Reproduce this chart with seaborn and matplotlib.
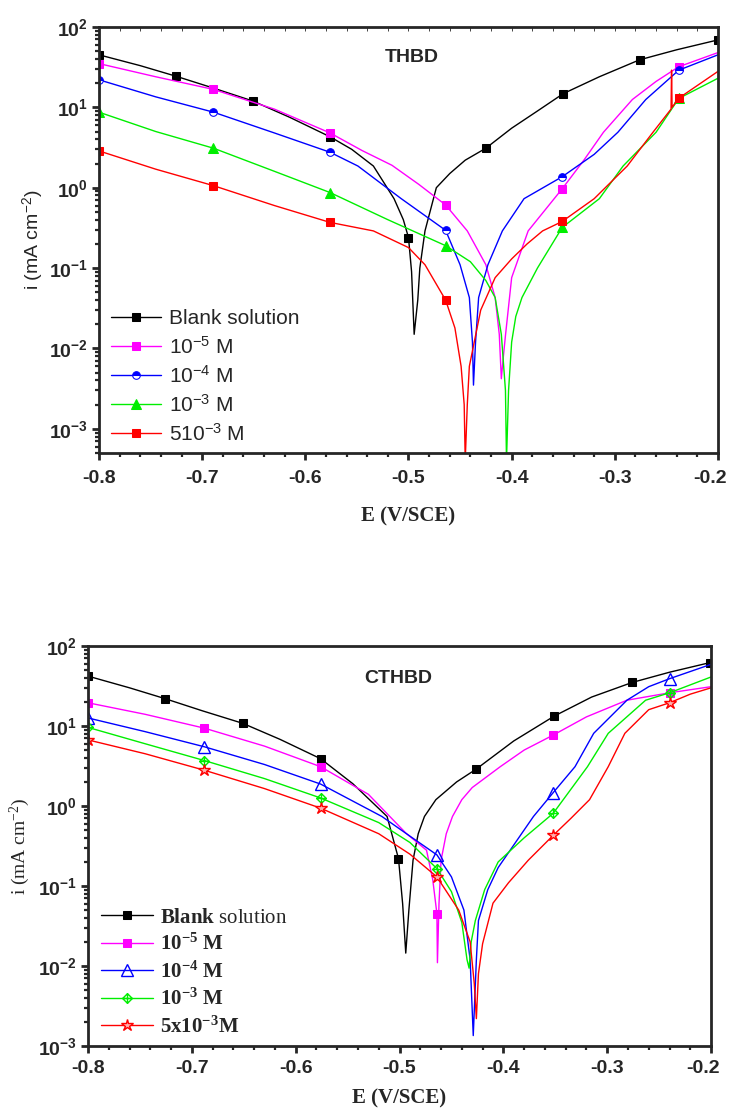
import numpy as np
import matplotlib
matplotlib.use("Agg")
import matplotlib.pyplot as plt
import matplotlib.transforms as mtransforms
from matplotlib.path import Path
from matplotlib.ticker import LogLocator, MultipleLocator, LogFormatterSciNotation, NullFormatter, FuncFormatter
import seaborn as sns

# ---------------- DATA: THBD (top panel) ----------------
top_labels = ["Blank solution", "10$^{\\mathdefault{-5}}$ M", "10$^{\\mathdefault{-4}}$ M",
              "10$^{\\mathdefault{-3}}$ M", "510$^{\\mathdefault{-3}}$ M"]

t_blank_E = [-0.800, -0.760, -0.725, -0.690, -0.651, -0.615, -0.576, -0.555, -0.534, -0.514, -0.505,
             -0.500, -0.497, -0.4945, -0.491, -0.489, -0.484, -0.473, -0.460, -0.445, -0.425, -0.400,
             -0.375, -0.350, -0.315, -0.276, -0.240, -0.200]
t_blank_i = [45, 33, 24.3, 17.5, 12, 7.5, 4.3, 3.0, 1.86, 0.73, 0.40,
             0.24, 0.09, 0.015, 0.04, 0.10, 0.29, 1.0, 1.5, 2.2, 3.1, 5.5,
             9.0, 14.8, 24, 39, 52, 69]

t_m5_E = [-0.800, -0.745, -0.689, -0.630, -0.576, -0.545, -0.516, -0.490, -0.464, -0.443, -0.425,
          -0.416, -0.412, -0.410, -0.408, -0.406, -0.400, -0.384, -0.351, -0.330, -0.311, -0.283,
          -0.260, -0.238, -0.200]
t_m5_i = [35, 24, 16.7, 9.5, 4.8, 2.9, 1.9, 1.1, 0.61, 0.29, 0.11,
          0.043, 0.015, 0.0042, 0.008, 0.0145, 0.076, 0.29, 0.97, 2.2, 4.9, 12.5,
          21, 32, 48]

t_m4_E = [-0.800, -0.745, -0.689, -0.630, -0.576, -0.549, -0.507, -0.464, -0.450, -0.441, -0.438,
          -0.437, -0.435, -0.432, -0.423, -0.409, -0.388, -0.351, -0.320, -0.297, -0.270, -0.238,
          -0.200]
t_m4_i = [22, 13.5, 8.7, 4.8, 2.76, 1.86, 0.73, 0.295, 0.11, 0.043, 0.012,
          0.0035, 0.012, 0.043, 0.11, 0.29, 0.73, 1.37, 2.6, 4.9, 12.5, 29,
          45]

t_m3_E = [-0.800, -0.745, -0.689, -0.630, -0.576, -0.520, -0.464, -0.440, -0.425, -0.416, -0.410,
          -0.406, -0.405, -0.403, -0.400, -0.396, -0.390, -0.375, -0.351, -0.315, -0.292, -0.260,
          -0.238, -0.200]
t_m3_i = [8.7, 5.0, 3.1, 1.6, 0.87, 0.40, 0.19, 0.12, 0.07, 0.043, 0.015,
          0.003, 0.0004, 0.003, 0.012, 0.025, 0.043, 0.10, 0.32, 0.73, 1.86, 4.9,
          12.9, 23]

t_m53_E = [-0.800, -0.745, -0.689, -0.630, -0.576, -0.534, -0.500, -0.484, -0.464, -0.455, -0.449,
           -0.446, -0.445, -0.443, -0.441, -0.430, -0.416, -0.400, -0.385, -0.370, -0.351, -0.320,
           -0.288, -0.263, -0.2455, -0.245, -0.2445, -0.238, -0.200]
t_m53_i = [2.87, 1.7, 1.06, 0.6, 0.37, 0.29, 0.18, 0.11, 0.04, 0.018, 0.006,
           0.002, 0.0004, 0.002, 0.006, 0.03, 0.076, 0.13, 0.2, 0.29, 0.38, 0.73,
           1.86, 4.9, 9.5, 29, 10, 13, 28]

t_mk_blank = [-0.800, -0.725, -0.651, -0.576, -0.500, -0.425, -0.350, -0.276, -0.200]
t_mk_inh = [-0.800, -0.689, -0.576, -0.464, -0.351, -0.238]

# ---------------- DATA: CTHBD (bottom panel) ----------------
bot_labels = ["$\\mathbf{Blank}$ solution", "10$^{\\mathdefault{-5}}$ M", "10$^{\\mathdefault{-4}}$ M",
              "10$^{\\mathdefault{-3}}$ M", "5x10$^{\\mathdefault{-3}}$M"]

b_blank_E = [-0.800, -0.760, -0.726, -0.690, -0.651, -0.615, -0.576, -0.545, -0.512, -0.501, -0.497,
             -0.494, -0.491, -0.487, -0.482, -0.476, -0.465, -0.445, -0.426, -0.390, -0.351, -0.315,
             -0.276, -0.240, -0.201]
b_blank_i = [42, 30, 22, 15.5, 10.8, 6.8, 3.9, 1.9, 0.74, 0.22, 0.06,
             0.0145, 0.05, 0.21, 0.45, 0.74, 1.2, 2.0, 2.9, 6.5, 13.3, 23,
             35, 47, 62]

b_m5_E = [-0.800, -0.745, -0.688, -0.630, -0.576, -0.530, -0.494, -0.474, -0.468, -0.464, -0.4635,
          -0.462, -0.460, -0.455, -0.449, -0.440, -0.430, -0.403, -0.380, -0.352, -0.320, -0.281,
          -0.240, -0.200]
b_m5_i = [19.5, 14, 9.4, 5.6, 3.1, 1.4, 0.46, 0.28, 0.12, 0.045, 0.011,
          0.06, 0.21, 0.45, 0.74, 1.2, 1.7, 3.1, 5.0, 7.7, 13, 21,
          26, 31]

b_m4_E = [-0.800, -0.745, -0.688, -0.630, -0.576, -0.517, -0.490, -0.464, -0.450, -0.438, -0.432,
          -0.429, -0.426, -0.424, -0.415, -0.405, -0.371, -0.352, -0.331, -0.313, -0.281, -0.260,
          -0.240, -0.200]
b_m4_i = [12.6, 8.5, 5.5, 3.3, 1.88, 0.74, 0.42, 0.245, 0.13, 0.05, 0.012,
          0.00135, 0.012, 0.037, 0.09, 0.17, 0.74, 1.47, 3.1, 8.1, 21, 31,
          39, 59]

b_m3_E = [-0.800, -0.745, -0.688, -0.630, -0.576, -0.520, -0.490, -0.464, -0.450, -0.440, -0.435,
          -0.433, -0.431, -0.427, -0.418, -0.405, -0.380, -0.352, -0.319, -0.299, -0.263, -0.240,
          -0.200]
b_m3_i = [9.6, 6.0, 3.7, 2.2, 1.26, 0.62, 0.35, 0.165, 0.085, 0.035, 0.012,
          0.0094, 0.02, 0.037, 0.09, 0.2, 0.4, 0.81, 3.1, 8.1, 21, 26,
          41]

b_m53_E = [-0.800, -0.745, -0.688, -0.630, -0.576, -0.520, -0.490, -0.464, -0.443, -0.432, -0.428,
           -0.426, -0.424, -0.420, -0.410, -0.395, -0.376, -0.352, -0.335, -0.317, -0.299, -0.283,
           -0.260, -0.240, -0.220, -0.200]
b_m53_i = [6.7, 4.5, 2.8, 1.65, 0.94, 0.45, 0.25, 0.13, 0.05, 0.02, 0.006,
           0.0022, 0.008, 0.019, 0.061, 0.11, 0.21, 0.43, 0.7, 1.2, 3.1, 8.1,
           16, 19.5, 25, 30]

b_mk_blank = [-0.800, -0.726, -0.651, -0.576, -0.501, -0.426, -0.351, -0.276, -0.201]
b_mk_inh = [-0.800, -0.688, -0.576, -0.464, -0.352, -0.240]

# ---------------- STYLE ----------------
sns.set_style("ticks")
plt.rcParams.update({
    "font.family": ["Liberation Sans", "DejaVu Sans"],
    "axes.unicode_minus": False,
    "mathtext.fontset": "custom",
    "mathtext.rm": "Liberation Serif",
    "mathtext.bf": "Liberation Serif:bold",
    "mathtext.it": "Liberation Serif:italic",
})

BLACK, MAG, BLUE, GREEN, RED = "#000000", "#ff00ff", "#0000ff", "#00ee00", "#ff0000"

diamond_plus = Path(
    [(0, 1), (1, 0), (0, -1), (-1, 0), (0, 1), (0, 1), (0, -1), (-1, 0), (1, 0)],
    [Path.MOVETO, Path.LINETO, Path.LINETO, Path.LINETO, Path.CLOSEPOLY,
     Path.MOVETO, Path.LINETO, Path.MOVETO, Path.LINETO])


def mk_idx(E, marks):
    E = np.round(np.asarray(E), 4)
    return [int(k) for k in np.where(np.isin(E, np.round(marks, 4)))[0]]


def style_axes(ax, ylabel, ylabel_font, ymin, xpad, xlabelpad, ylabelpad):
    ax.set_xlim(-0.8, -0.2)
    ax.set_ylim(ymin, 100)
    ax.xaxis.set_major_locator(MultipleLocator(0.1))
    ax.xaxis.set_minor_locator(MultipleLocator(0.02))
    ax.yaxis.set_major_locator(LogLocator(base=10, numticks=10))
    ax.yaxis.set_minor_locator(LogLocator(base=10, subs=np.arange(2, 10), numticks=20))
    ax.yaxis.set_major_formatter(LogFormatterSciNotation())
    ax.yaxis.set_minor_formatter(NullFormatter())
    ax.xaxis.set_major_formatter(FuncFormatter(lambda v, p: f"{v:.1f}"))
    for s in ax.spines.values():
        s.set_linewidth(2.0)
        s.set_visible(True)
    ax.tick_params(axis="both", which="major", direction="out", length=5, width=2, labelsize=14)
    ax.tick_params(axis="x", which="major", pad=xpad)
    ax.tick_params(axis="y", which="major", pad=3)
    ax.tick_params(axis="both", which="minor", direction="out", length=3, width=1.6)
    ax.set_xlabel("E (V/SCE)", fontsize=15, fontweight="bold", family="Liberation Serif", labelpad=xlabelpad)
    ax.set_ylabel(ylabel, fontsize=14, family=ylabel_font, labelpad=ylabelpad)


def finish_ticklabels(ax):
    for lab in ax.get_xticklabels() + ax.get_yticklabels():
        lab.set_fontweight("bold")
        lab.set_family("Liberation Sans")
    # keep the right-most x tick label (-0.2) inside the figure edge
    for tick in ax.xaxis.get_major_ticks():
        if abs(tick.get_loc() - ax.get_xlim()[1]) < 1e-6:
            lab = tick.label1
            lab.set_transform(lab.get_transform() +
                              mtransforms.ScaledTranslation(-8 / 100, 0, ax.figure.dpi_scale_trans))


fig = plt.figure(figsize=(7.31, 11.09), dpi=100)
ax1 = fig.add_axes([0.1354, 0.5915, 0.8468, 0.3842])
ax2 = fig.add_axes([0.1204, 0.0568, 0.8523, 0.3607])

lw = 1.0
ms = 5.5

# ---- top panel ----
ax1.set_yscale("log")
top_series = [
    (t_blank_E, t_blank_i, BLACK, dict(marker="s", mfc=BLACK, mec=BLACK), t_mk_blank),
    (t_m5_E, t_m5_i, MAG, dict(marker="s", mfc=MAG, mec=MAG), t_mk_inh),
    (t_m4_E, t_m4_i, BLUE, dict(marker="o", mfc=BLUE, mec=BLUE, fillstyle="top",
                                 markerfacecoloralt="white"), t_mk_inh),
    (t_m3_E, t_m3_i, GREEN, dict(marker="^", mfc=GREEN, mec=GREEN, markersize=7.5), t_mk_inh),
    (t_m53_E, t_m53_i, RED, dict(marker="s", mfc=RED, mec=RED), t_mk_inh),
]
for (E, I, c, mkw, marks), lab in zip(top_series, top_labels):
    kw = dict(markersize=ms)
    kw.update(mkw)
    sns.lineplot(x=E, y=I, ax=ax1, color=c, lw=lw, sort=False, estimator=None,
                 markevery=mk_idx(E, marks), label=lab, **kw)

style_axes(ax1, "i (mA cm$^{\\mathdefault{-2}}$)", "Liberation Sans", 5e-4, 7, 14, 2)
ax1.tick_params(axis="x", which="both", top=True, labeltop=False)
for t in ax1.xaxis.get_minor_ticks() + ax1.xaxis.get_major_ticks():
    t.tick2line.set_markersize(3)
    t.tick2line.set_markeredgewidth(0.6)
    t.tick2line.set_color("#666666")
    t.tick2line.set_marker(matplotlib.lines.TICKDOWN)
ax1.text(0.506, 0.928, "THBD", transform=ax1.transAxes, ha="center", va="center",
         fontsize=14, fontweight="bold", family="Liberation Sans")
ax1.legend(loc="lower left", bbox_to_anchor=(0.0, -0.01), frameon=False,
           handlelength=2.4, handletextpad=0.35, labelspacing=0.38, borderaxespad=0.2,
           prop={"family": "Liberation Sans", "size": 15})

# ---- bottom panel ----
ax2.set_yscale("log")
bot_series = [
    (b_blank_E, b_blank_i, BLACK, dict(marker="s", mfc=BLACK, mec=BLACK), b_mk_blank),
    (b_m5_E, b_m5_i, MAG, dict(marker="s", mfc=MAG, mec=MAG), b_mk_inh),
    (b_m4_E, b_m4_i, BLUE, dict(marker="^", mfc="none", mec=BLUE, markersize=8, mew=1.0), b_mk_inh),
    (b_m3_E, b_m3_i, GREEN, dict(marker=diamond_plus, mfc="none", mec=GREEN, markersize=7, mew=1.0), b_mk_inh),
    (b_m53_E, b_m53_i, RED, dict(marker="*", mfc="#ffb0b0", mec=RED, markersize=9, mew=1.0), b_mk_inh),
]
for (E, I, c, mkw, marks), lab in zip(bot_series, bot_labels):
    kw = dict(markersize=ms)
    kw.update(mkw)
    sns.lineplot(x=E, y=I, ax=ax2, color=c, lw=lw, sort=False, estimator=None,
                 markevery=mk_idx(E, marks), label=lab, **kw)

style_axes(ax2, "i (mA cm$^{\\mathdefault{-2}}$)", "Liberation Serif", 1e-3, 5, 8, 4)
ax2.text(0.498, 0.9175, "CTHBD", transform=ax2.transAxes, ha="center", va="center",
         fontsize=14, fontweight="bold", family="Liberation Sans")
leg2 = ax2.legend(loc="lower left", bbox_to_anchor=(0.0, -0.01), frameon=False,
                  handlelength=2.5, handletextpad=0.35, labelspacing=0.3, borderaxespad=0.2,
                  prop={"family": "Liberation Serif", "size": 15})
for k, t in enumerate(leg2.get_texts()):
    if k > 0:
        t.set_fontweight("bold")

fig.canvas.draw()
finish_ticklabels(ax1)
finish_ticklabels(ax2)

fig.savefig("out.png", dpi=100)
